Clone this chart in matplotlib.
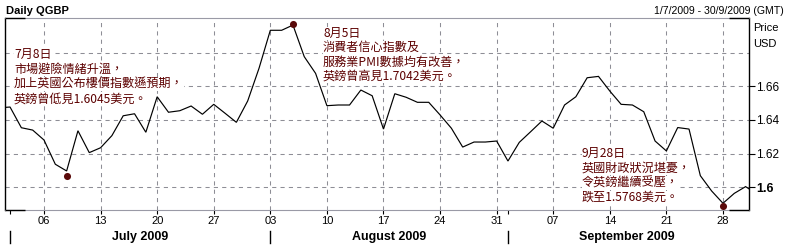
import numpy as np
import pandas as pd
import matplotlib
matplotlib.use("Agg")
import matplotlib.pyplot as plt

# ---------------- data ----------------
dates = pd.bdate_range("2009-06-30", "2009-10-01")
prices = [
    1.6472,
    # July
    1.6477, 1.6354, 1.6340, 1.6281, 1.6137, 1.6097, 1.6336, 1.6206, 1.6235, 1.6307,
    1.6425, 1.6437, 1.6327, 1.6538, 1.6446, 1.6455, 1.6483, 1.6434, 1.6493, 1.6440,
    1.6386, 1.6513, 1.6707,
    # August
    1.6933, 1.6933, 1.6964, 1.6776, 1.6677, 1.6485, 1.6489, 1.6489, 1.6578, 1.6544,
    1.6346, 1.6556, 1.6535, 1.6505, 1.6505, 1.6430, 1.6351, 1.6239, 1.6269, 1.6269,
    1.6275,
    # September
    1.6156, 1.6267, 1.6330, 1.6394, 1.6351, 1.6489, 1.6538, 1.6651, 1.6659, 1.6572,
    1.6493, 1.6489, 1.6449, 1.6275, 1.6216, 1.6355, 1.6346, 1.6069, 1.5978, 1.5905,
    1.5964, 1.6004,
    1.5960,
]
event_dates = ["2009-07-08", "2009-08-05", "2009-09-28"]
event_values = [1.6067, 1.6972, 1.5889]
event_texts = [
    ["7月8日", "市場避險情緒升溫，", "加上英國公布樓價指數遜預期，", "英鎊曾低見1.6045美元。"],
    ["8月5日", "消費者信心指數及", "服務業PMI數據均有改善，", "英鎊曾高見1.7042美元。"],
    ["9月28日", "英國財政狀況堪憂，", "令英鎊繼續受壓，", "跌至1.5768美元。"],
]
y_ticks = [1.60, 1.62, 1.64, 1.66]
y_tick_labels = ["1.6", "1.62", "1.64", "1.66"]
y_grid = [1.60, 1.62, 1.64, 1.66, 1.68]
months = ["July 2009", "August 2009", "September 2009"]
title = "Daily QGBP"
range_text = "1/7/2009 - 30/9/2009 (GMT)"

# ---------------- layout ----------------
W, H = 791, 248
fig = plt.figure(figsize=(W / 100, H / 100), dpi=100)
fig.patch.set_facecolor("white")
L, R, T, B = 5, 749, 18, 210
ax = fig.add_axes([L / W, (H - B) / H, (R - L) / W, (B - T) / H])

x = np.arange(len(dates))
pos = {d: i for i, d in enumerate(dates)}

def px(xp, yp):
    return xp / W, 1 - yp / H

latin = "Liberation Sans"
cjk = ["Noto Sans CJK TC", "DejaVu Sans"]
red = "#5c0000"
gridc = "#8e8e96"

ax.plot(x, prices, color="black", lw=0.85, zorder=3, solid_joinstyle="miter")
ex = [pos[pd.Timestamp(d)] for d in event_dates]
ax.scatter(ex, event_values, s=26, color="#5a0a0a", zorder=5, linewidths=0)

ax.set_xlim(0.554, 66.30)
ax.set_ylim(1.58651, 1.70060)

# Mondays (major) & month starts (minor)
mondays = [i for i, d in enumerate(dates) if d.weekday() == 0 and d.month in (7, 8, 9)]
month_first = []
for m in (7, 8, 9):
    month_first.append(min(i for i, d in enumerate(dates) if d.month == m and d.year == 2009))
ax.set_xticks(mondays)
ax.set_xticklabels([dates[i].strftime("%d") for i in mondays], fontfamily=latin, fontsize=8)
ax.set_xticks(month_first, minor=True)
ax.tick_params(axis="x", which="both", direction="out", length=3, width=0.8, pad=1.6, color="black")

for i in mondays:
    ax.axvline(i, color=gridc, lw=0.75, ls=(0, (4, 4)), zorder=1)
for v in y_grid:
    ax.axhline(v, color=gridc, lw=0.75, ls=(0, (4, 4)), zorder=1)

ax.yaxis.tick_right()
ax.set_yticks(y_ticks)
ax.set_yticklabels(y_tick_labels, fontfamily=latin, fontsize=8.5)
for lbl in ax.get_yticklabels():
    if lbl.get_text() == "1.6":
        lbl.set_fontweight("bold")
        lbl.set_fontsize(9)
ax.tick_params(axis="y", direction="out", length=4, width=0.8, pad=1.2, color="black")

for s in ("top", "bottom"):
    ax.spines[s].set_color("#9a9aa6")
    ax.spines[s].set_linewidth(0.8)
for s in ("left", "right"):
    ax.spines[s].set_color("black")
    ax.spines[s].set_linewidth(1.0)
seg = 20 / (R - L)
for (x0, x1, yy) in [(0, seg, 1), (0, seg, 0), (1 - seg, 1, 1), (1 - seg, 1, 0)]:
    ax.plot([x0, x1], [yy, yy], transform=ax.transAxes, color="black", lw=1.0,
            clip_on=False, zorder=6, solid_capstyle="butt")

# month separators and labels
trans = ax.get_xaxis_transform()
sep_y0 = 1 - (231 - T) / (B - T) - 0.0
for i in month_first:
    ax.plot([i, i], [-(231 - B) / (B - T), -(243 - B) / (B - T)], transform=trans,
            color="black", lw=1.0, clip_on=False)
last = len(dates) - 2
bounds = month_first + [last]
for k, name in enumerate(months):
    c = (bounds[k] + bounds[k + 1]) / 2
    ax.text(c, -(237 - B) / (B - T), name, transform=trans, ha="center", va="center",
            fontfamily=latin, fontsize=9, fontweight="bold")

# header texts
fig.text(*px(6, 10.7), title, ha="left", va="center", fontfamily=latin,
         fontsize=8, fontweight="bold")
fig.text(*px(784, 10.5), range_text, ha="right", va="center", fontfamily=latin, fontsize=7.6)
fig.text(*px(753, 28.3), "Price", ha="left", va="center", fontfamily=latin, fontsize=8)
fig.text(*px(753, 43.7), "USD", ha="left", va="center", fontfamily=latin, fontsize=8)

# annotations
blocks = [(14, 54.5, 14.9), (323, 33.5, 14.3), (582, 153.5, 14.7)]
for (bx, by, dy), lines in zip(blocks, event_texts):
    for j, t in enumerate(lines):
        fig.text(*px(bx, by + j * dy), t, ha="left", va="center", family=cjk,
                 fontsize=8.7, color=red, zorder=10,
                 bbox=dict(facecolor="white", edgecolor="none", pad=0.2))

fig.savefig("out.png", dpi=100, facecolor="white")
